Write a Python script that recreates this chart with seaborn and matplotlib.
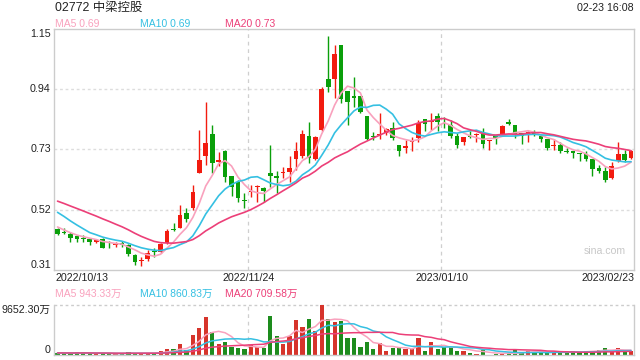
import numpy as np
import pandas as pd
import matplotlib
matplotlib.use("Agg")
import matplotlib.pyplot as plt
import matplotlib.transforms as mtransforms
import seaborn as sns

# ---------------- data ----------------
title = "02772 中梁控股"
stamp = "02-23 16:08"
date_labels = ["2022/10/13", "2022/11/24", "2023/01/10", "2023/02/23"]
ytick_vals = [1.15, 0.94, 0.73, 0.52, 0.31]

# closes before the visible window (only used for the moving averages)
prior_close = [0.60, 0.60, 0.59, 0.59, 0.59, 0.59, 0.58, 0.58, 0.59, 0.58,
               0.58, 0.58, 0.56, 0.55, 0.54, 0.49, 0.47, 0.46, 0.446]
prior_vol = [400] * 19

opens = [0.453, 0.441, 0.434, 0.429, 0.421, 0.417, 0.408, 0.417, 0.407, 0.396,
         0.405, 0.396, 0.362, 0.343, 0.349, 0.374, 0.372, 0.403, 0.452, 0.458,
         0.508, 0.525, 0.649, 0.709, 0.784, 0.688, 0.726, 0.638, 0.618, 0.554,
         0.581, 0.598, 0.596, 0.649, 0.639, 0.649, 0.650, 0.697, 0.707, 0.777,
         0.696, 0.798, 0.976, 0.976, 1.094, 0.934, 0.916, 0.916, 0.847, 0.777,
         0.7805, 0.786, 0.804, 0.746, 0.736, 0.757, 0.769, 0.835, 0.827, 0.847,
         0.824, 0.815, 0.777, 0.757, 0.777, 0.780, 0.783, 0.760, 0.780, 0.780,
         0.825, 0.815, 0.786, 0.785, 0.790, 0.777, 0.767, 0.743, 0.746, 0.725,
         0.725, 0.717, 0.714, 0.697, 0.667, 0.656, 0.630, 0.690, 0.714, 0.699]
highs = [0.455, 0.458, 0.441, 0.432, 0.432, 0.419, 0.417, 0.421, 0.411, 0.407,
         0.410, 0.401, 0.366, 0.357, 0.378, 0.386, 0.405, 0.453, 0.475, 0.537,
         0.525, 0.606, 0.798, 0.897, 0.815, 0.722, 0.727, 0.638, 0.624, 0.577,
         0.606, 0.606, 0.598, 0.746, 0.656, 0.670, 0.707, 0.757, 0.798, 0.827,
         0.777, 0.947, 1.126, 1.094, 1.094, 0.934, 0.984, 0.916, 0.847, 0.792,
         0.856, 0.804, 0.825, 0.746, 0.763, 0.775, 0.833, 0.836, 0.856, 0.856,
         0.844, 0.833, 0.786, 0.772, 0.795, 0.786, 0.804, 0.763, 0.780, 0.815,
         0.836, 0.815, 0.786, 0.794, 0.798, 0.777, 0.767, 0.767, 0.757, 0.734,
         0.725, 0.717, 0.725, 0.697, 0.676, 0.668, 0.688, 0.757, 0.728, 0.728]
lows = [0.432, 0.434, 0.409, 0.409, 0.409, 0.397, 0.403, 0.386, 0.388, 0.391,
        0.391, 0.359, 0.328, 0.324, 0.343, 0.354, 0.368, 0.399, 0.446, 0.455,
        0.479, 0.519, 0.647, 0.676, 0.647, 0.673, 0.618, 0.568, 0.548, 0.525,
        0.566, 0.548, 0.548, 0.600, 0.577, 0.630, 0.618, 0.659, 0.699, 0.682,
        0.693, 0.796, 0.932, 0.908, 0.893, 0.815, 0.879, 0.858, 0.763, 0.763,
        0.765, 0.780, 0.763, 0.707, 0.717, 0.725, 0.757, 0.794, 0.798, 0.794,
        0.806, 0.769, 0.736, 0.746, 0.769, 0.757, 0.736, 0.728, 0.748, 0.780,
        0.815, 0.769, 0.748, 0.757, 0.777, 0.757, 0.728, 0.728, 0.717, 0.717,
        0.699, 0.690, 0.690, 0.639, 0.647, 0.618, 0.627, 0.688, 0.688, 0.697]
closes = [0.434, 0.438, 0.423, 0.418, 0.417, 0.408, 0.415, 0.388, 0.403, 0.398,
          0.396, 0.366, 0.339, 0.345, 0.368, 0.372, 0.401, 0.446, 0.450, 0.502,
          0.487, 0.581, 0.693, 0.752, 0.684, 0.692, 0.635, 0.600, 0.560, 0.552,
          0.584, 0.600, 0.587, 0.639, 0.630, 0.650, 0.667, 0.725, 0.784, 0.699,
          0.775, 0.941, 0.947, 1.063, 0.906, 0.897, 0.908, 0.862, 0.768, 0.772,
          0.784, 0.8015, 0.769, 0.726, 0.742, 0.761, 0.824, 0.818, 0.830, 0.827,
          0.818, 0.778, 0.746, 0.772, 0.775, 0.785, 0.748, 0.763, 0.771, 0.812,
          0.818, 0.780, 0.777, 0.790, 0.785, 0.767, 0.736, 0.746, 0.725, 0.720,
          0.717, 0.714, 0.697, 0.661, 0.656, 0.624, 0.673, 0.714, 0.693, 0.726]
# volume in 万 shares
volumes = [350, 300, 250, 500, 500, 250, 200, 350, 250, 200,
           250, 500, 300, 450, 350, 300, 772, 1158, 1158, 2124,
           965, 3861, 5212, 7336, 4376, 2059, 2510, 1544, 1351, 1223,
           1866, 1609, 1416, 7529, 3668, 2188, 3668, 6757, 5405, 6950,
           4633, 9652.30, 6950, 6435, 6628, 3346, 3346, 1544, 2574, 1223,
           2252, 836, 1416, 1416, 1094, 1094, 3346, 836, 2510, 1158,
           1480, 1480, 836, 836, 450, 257, 1030, 64, 129, 193,
           350, 900, 480, 830, 480, 480, 620, 480, 480, 484,
           700, 650, 800, 850, 890, 1420, 700, 1300, 550, 747]
vol_max_label = "9652.30万"

# ---------------- styling ----------------
sns.set_style("white")
plt.rcParams['font.family'] = ['Liberation Sans', 'Noto Sans CJK SC', 'DejaVu Sans']

RED = "#f21b0f"
GREEN = "#0a9f0a"
C5 = "#f9a1bd"
C10 = "#35c0e2"
C20 = "#ec3f78"
BORDER = "#cccccc"
TXT = "#222222"

n = len(closes)
idx = np.arange(n)
o = np.array(opens); h = np.array(highs); l = np.array(lows); c = np.array(closes)
up = c >= o
colors = np.where(up, RED, GREEN)

full_c = pd.Series(prior_close + closes)
full_v = pd.Series(prior_vol + volumes)
ma = {k: full_c.rolling(k).mean().iloc[19:].to_numpy() for k in (5, 10, 20)}
vma = {k: full_v.rolling(k).mean().iloc[19:].to_numpy() for k in (5, 10, 20)}

W, H = 640, 360
fig = plt.figure(figsize=(6.4, 3.6), dpi=100)
L, R = 54.3, 634.3
ax = fig.add_axes([L / W, (H - 270) / H, (R - L) / W, 241 / H])
axv = fig.add_axes([L / W, (H - 355) / H, (R - L) / W, 50 / H])

# ---- price panel ----
for y in (0.94, 0.73, 0.52):
    ax.axhline(y, color="#dddddd", lw=1, ls=(0, (2, 2)), zorder=0)
for xv in (29.5, 59.5):
    ax.axvline(xv, color="#cfcfcf", lw=0.9, ls=(0, (3, 3)), zorder=0)

ax.vlines(idx, l, h, colors=colors, lw=1, zorder=2)
body = np.maximum(np.abs(c - o), 0.0035)
ax.bar(idx, body, bottom=np.minimum(o, c), width=0.72, color=colors, lw=0, zorder=3)

sns.lineplot(x=idx, y=ma[5], ax=ax, color=C5, lw=1.2, zorder=4)
sns.lineplot(x=idx, y=ma[10], ax=ax, color=C10, lw=1.2, zorder=4)
sns.lineplot(x=idx, y=ma[20], ax=ax, color=C20, lw=1.2, zorder=4)

ax.set_xlim(-0.5, n - 0.5)
ax.set_ylim(0.31, 1.15)
ax.set_xticks([]); ax.set_yticks([])
ax.set_xlabel(""); ax.set_ylabel("")
for s in ax.spines.values():
    s.set_color(BORDER); s.set_linewidth(1)

trans = mtransforms.blended_transform_factory(ax.transAxes, ax.transData)
dx = -3.5 / (R - L)
for v in ytick_vals:
    va = "top" if v == ytick_vals[0] else ("bottom" if v == ytick_vals[-1] else "center")
    ax.text(dx, v, f"{v:.2f}", transform=trans, ha="right", va=va,
            fontsize=7.7, color=TXT)

ax.text(0.985, 0.08, "sina.com", transform=ax.transAxes, ha="right", va="center",
        fontsize=7.6, color="#c8c8c8")

# ---- volume panel ----
axv.axvline(29.5, color="#cfcfcf", lw=0.9, ls=(0, (3, 3)), zorder=0)
axv.axvline(59.5, color="#cfcfcf", lw=0.9, ls=(0, (3, 3)), zorder=0)
vol_df = pd.DataFrame({"i": idx, "v": volumes, "dir": np.where(up, "up", "down")})
sns.barplot(data=vol_df, x="i", y="v", hue="dir", palette={"up": RED, "down": GREEN},
            native_scale=True, dodge=False, width=0.65, legend=False, ax=axv,
            linewidth=0, zorder=2)
sns.lineplot(x=idx, y=vma[5], ax=axv, color=C5, lw=1.1, zorder=4)
sns.lineplot(x=idx, y=vma[10], ax=axv, color=C10, lw=1.1, zorder=4)
sns.lineplot(x=idx, y=vma[20], ax=axv, color=C20, lw=1.1, zorder=4)
vmax = max(volumes)
axv.set_xlim(-0.5, n - 0.5)
axv.set_ylim(0, vmax)
axv.set_xticks([]); axv.set_yticks([])
axv.set_xlabel(""); axv.set_ylabel("")
for k, s in axv.spines.items():
    s.set_color(BORDER); s.set_linewidth(1)
axv.spines["top"].set_visible(False)
axv.axhline(vmax, color="#cccccc", lw=1, ls=(0, (2, 2)), zorder=0, clip_on=False)
transv = mtransforms.blended_transform_factory(axv.transAxes, axv.transData)
axv.text(dx, vmax, vol_max_label, transform=transv, ha="right", va="top",
         fontsize=7.7, color=TXT)
axv.text(dx, 0, "0", transform=transv, ha="right", va="bottom", fontsize=7.7, color=TXT)

# ---- header texts ----
fig.text(55 / W, 1 - 8 / H, title, ha="left", va="center", fontsize=8.9, color=TXT)
fig.text(634 / W, 1 - 8 / H, stamp, ha="right", va="center", fontsize=7.7, color=TXT)

lab_fs = 7.5
fig.text(55 / W, 1 - 24 / H, f"MA5 {ma[5][-1]:.2f}", ha="left", va="center", fontsize=lab_fs, color=C5)
fig.text(140 / W, 1 - 24 / H, f"MA10 {ma[10][-1]:.2f}", ha="left", va="center", fontsize=lab_fs, color=C10)
fig.text(225 / W, 1 - 24 / H, f"MA20 {ma[20][-1]:.2f}", ha="left", va="center", fontsize=lab_fs, color=C20)

fig.text(55 / W, 1 - 294 / H, "MA5 943.33万", ha="left", va="center", fontsize=lab_fs, color=C5)
fig.text(140 / W, 1 - 294 / H, "MA10 860.83万", ha="left", va="center", fontsize=lab_fs, color=C10)
fig.text(225 / W, 1 - 294 / H, "MA20 709.58万", ha="left", va="center", fontsize=lab_fs, color=C20)

# ---- date labels ----
dy = 1 - 278 / H
fig.text(55 / W, dy, date_labels[0], ha="left", va="center", fontsize=7.7, color=TXT)
fig.text(248.3 / W, dy, date_labels[1], ha="center", va="center", fontsize=7.7, color=TXT)
fig.text(441.5 / W, dy, date_labels[2], ha="center", va="center", fontsize=7.7, color=TXT)
fig.text(634 / W, dy, date_labels[3], ha="right", va="center", fontsize=7.7, color=TXT)

fig.savefig("out.png", dpi=100)
